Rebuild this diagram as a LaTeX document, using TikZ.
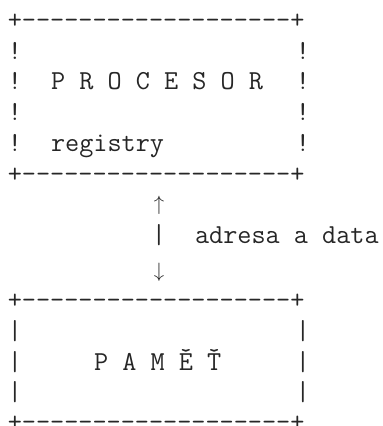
\documentclass[tikz,border=0pt]{standalone}
\usepackage{fontspec}
\begin{document}
\begin{tikzpicture}
\tikzset{
  txt/.style={anchor=base west, inner sep=0pt, outer sep=0pt, font=\ttfamily\fontsize{27.43}{32}\selectfont, text=black!85},
  arr/.style={anchor=base, inner sep=0pt, outer sep=0pt, font=\fontsize{20}{24}\selectfont, text=black!85}}
\useasboundingbox (0pt,0pt) rectangle (383pt,-426pt);
\begin{scope}[x=14.4pt, y=-1pt, xshift=7.8pt]
% processor box
\node[txt] (ptop) at (0,28.5) {+-------------------+};
\node[txt] (pl1) at (0,59.5) {!};   \node[txt] (pr1) at (20,59.5) {!};
\node[txt] (pl2) at (0,89.3) {!};   \node[txt] (proc) at (3,89.3) {P R O C E S O R}; \node[txt] (pr2) at (20,89.3) {!};
\node[txt] (pl3) at (0,120) {!};    \node[txt] (pr3) at (20,120) {!};
\node[txt] (pl4) at (0,151) {!};    \node[txt] (regs) at (3,151) {registry}; \node[txt] (pr4) at (20,151) {!};
\node[txt] (pbot) at (0,182) {+-------------------+};
% bus
\node[arr] (up) at (10.5,210.5) {$\uparrow$};
\node[txt] (bar) at (10,243.3) {|}; \node[txt] (bus) at (13,243.3) {adresa a data};
\node[arr] (down) at (10.5,277) {$\downarrow$};
% memory box
\node[txt] (mtop) at (0,308.5) {+-------------------+};
\node[txt] (ml1) at (0,339.5) {|};  \node[txt] (mr1) at (20,339.5) {|};
\node[txt] (ml2) at (0,370) {|};    \node[txt] (mem) at (6,370) {P A M Ě Ť}; \node[txt] (mr2) at (20,370) {|};
\node[txt] (ml3) at (0,400.5) {|};  \node[txt] (mr3) at (20,400.5) {|};
\node[txt] (mbot) at (0,430) {+-------------------+};
\end{scope}
\end{tikzpicture}
\end{document}
